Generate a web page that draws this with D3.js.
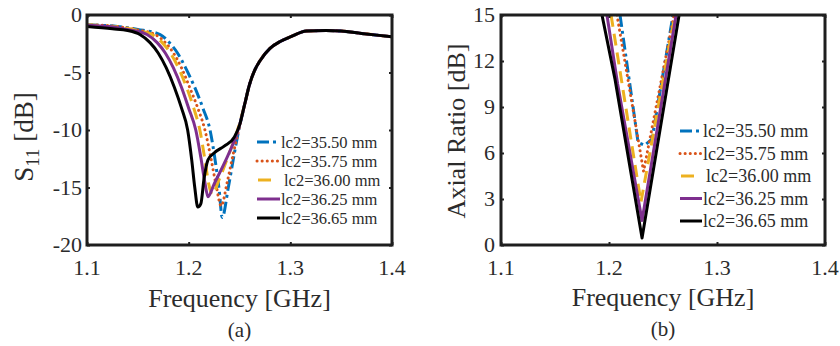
<!DOCTYPE html>
<html>
<head>
<meta charset="utf-8">
<script src="https://cdn.jsdelivr.net/npm/d3@7/dist/d3.min.js"></script>
<style>
  html, body { margin: 0; padding: 0; background: #fff; }
  svg { display: block; }
  text { font-family: "Liberation Serif", "Times New Roman", serif; fill: #2b2b2b; }
</style>
</head>
<body>
<svg id="chart" width="840" height="346"></svg>
<script>
// ---- data ----------------------------------------------------------------
const seriesLabels = ["lc2=35.50 mm", "lc2=35.75 mm", "lc2=36.00 mm", "lc2=36.25 mm", "lc2=36.65 mm"];
const seriesColors = ["#0072BD", "#D95319", "#EDB120", "#7E2F8E", "#000000"];

const freqTicks = [1.1, 1.2, 1.3, 1.4];
const s11Ticks = [0, -5, -10, -15, -20];
const arTicks = [0, 3, 6, 9, 12, 15];

// S11 [dB] vs frequency [GHz]; the upper tail above 1.255 GHz is shared
const s11Tail = [[1.255,-7.8],[1.260,-6.0],[1.265,-4.8],[1.270,-4.0],[1.280,-2.9],[1.290,-2.3],
                 [1.300,-1.9],[1.316,-1.4],[1.335,-1.35],[1.350,-1.4],[1.370,-1.6],[1.400,-1.9]];
const s11_3550 = [[1.10,-0.85],[1.13,-1.0],[1.15,-1.25],[1.172,-1.7],[1.181,-2.4],[1.189,-3.3],[1.197,-4.6],
                  [1.206,-6.3],[1.214,-8.1],[1.221,-10],[1.226,-12.6],[1.230,-15.2],[1.233,-17.6],
                  [1.239,-15.0],[1.245,-12.0],[1.250,-9.7]];
const s11_3575 = [[1.10,-0.85],[1.13,-1.0],[1.15,-1.3],[1.167,-1.7],[1.177,-2.4],[1.185,-3.3],[1.193,-4.6],
                  [1.201,-6.3],[1.209,-8.1],[1.216,-10],[1.222,-12.5],[1.227,-14.8],[1.232,-16.6],
                  [1.238,-14.5],[1.244,-12.0],[1.250,-9.7]];
const s11_3600 = [[1.10,-0.85],[1.13,-1.05],[1.15,-1.35],[1.164,-1.7],[1.174,-2.4],[1.182,-3.3],[1.190,-4.6],
                  [1.198,-6.3],[1.205,-8.1],[1.211,-10],[1.216,-12.6],[1.220,-14.8],[1.223,-15.6],
                  [1.230,-14.3],[1.240,-12.0],[1.247,-10.3],[1.252,-8.8]];
const s11_3625 = [[1.10,-0.9],[1.13,-1.1],[1.145,-1.35],[1.159,-1.7],[1.169,-2.4],[1.177,-3.3],[1.185,-4.6],
                  [1.193,-6.3],[1.200,-8.1],[1.207,-10],[1.212,-12.4],[1.216,-14.6],[1.219,-15.8],
                  [1.225,-14.7],[1.235,-12.9],[1.245,-10.9],[1.250,-9.6]];
const s11_3665 = [[1.10,-1.0],[1.125,-1.2],[1.140,-1.35],[1.152,-1.7],[1.162,-2.4],[1.170,-3.3],[1.178,-4.6],
                  [1.186,-6.3],[1.193,-8.1],[1.199,-10],[1.203,-12.6],[1.206,-15.0],[1.209,-16.7],
                  [1.212,-16.4],[1.215,-14.3],[1.219,-12.6],[1.225,-12.0],[1.235,-11.4],[1.245,-10.6],
                  [1.250,-9.6]];

// Axial ratio [dB] vs frequency [GHz]
const ar_3550 = [[1.2102,15],[1.2269,6.7],[1.2330,6.5],[1.2398,6.9],[1.2593,15]];
const ar_3575 = [[1.2074,15],[1.2320,4.8],[1.2602,15]];
const ar_3600 = [[1.2019,15],[1.2296,2.8],[1.2610,15]];
const ar_3625 = [[1.1981,15],[1.2080,10.5],[1.2306,1.6],[1.2621,15]];
const ar_3665 = [[1.1935,15],[1.2056,10.8],[1.2306,0.45],[1.2649,15]];

const s11Series = [s11_3550, s11_3575, s11_3600, s11_3625, s11_3665].map(s => s.concat(s11Tail.filter(p => p[0] > s[s.length - 1][0])));
const arSeries = [ar_3550, ar_3575, ar_3600, ar_3625, ar_3665];

// ---- styles --------------------------------------------------------------
const lineStyles = [
  { dash: "12,4,3,4", cap: "butt" },   // dash-dot
  { dash: "0.1,5", cap: "round" },     // dotted
  { dash: "12,7", cap: "butt" },       // dashed
  { dash: null, cap: "butt" },         // solid
  { dash: null, cap: "butt" }          // solid
];

const svg = d3.select("#chart");
svg.append("rect").attr("width", 840).attr("height", 346).attr("fill", "#fff");

function panel(cfg) {
  const x = d3.scaleLinear().domain([1.1, 1.4]).range([cfg.left, cfg.right]);
  const y = d3.scaleLinear().domain(cfg.yDomain).range([cfg.bottom, cfg.top]);
  const g = svg.append("g");

  const clipId = "clip-" + cfg.id;
  g.append("clipPath").attr("id", clipId).append("rect")
    .attr("x", cfg.left).attr("y", cfg.top)
    .attr("width", cfg.right - cfg.left).attr("height", cfg.bottom - cfg.top);

  const line = d3.line().x(d => x(d[0])).y(d => y(d[1])).curve(cfg.curve);

  const plot = g.append("g").attr("clip-path", `url(#${clipId})`);
  cfg.series.forEach((s, i) => {
    plot.append("path")
      .attr("d", line(s))
      .attr("fill", "none")
      .attr("stroke", seriesColors[i])
      .attr("stroke-width", 3)
      .attr("stroke-linejoin", "round")
      .attr("stroke-linecap", lineStyles[i].cap)
      .attr("stroke-dasharray", lineStyles[i].dash);
  });

  // inward ticks on all four sides
  const tl = 3;
  const axB = d3.axisBottom(x).tickValues(freqTicks).tickSize(tl).tickFormat("");
  const axT = d3.axisTop(x).tickValues(freqTicks).tickSize(tl).tickFormat("");
  const axL = d3.axisLeft(y).tickValues(cfg.yTicks).tickSize(tl).tickFormat("");
  const axR = d3.axisRight(y).tickValues(cfg.yTicks).tickSize(tl).tickFormat("");
  [[axB, `translate(0,${cfg.bottom - tl})`], [axT, `translate(0,${cfg.top + tl})`],
   [axL, `translate(${cfg.left + tl},0)`], [axR, `translate(${cfg.right - tl},0)`]].forEach(([ax, tr]) => {
    const a = g.append("g").attr("transform", tr).call(ax);
    a.select(".domain").remove();
    a.selectAll("line").attr("stroke", "#222").attr("stroke-width", 2);
  });

  // frame
  g.append("rect")
    .attr("x", cfg.left).attr("y", cfg.top)
    .attr("width", cfg.right - cfg.left).attr("height", cfg.bottom - cfg.top)
    .attr("fill", "none").attr("stroke", "#1e1e1e").attr("stroke-width", 3);

  // tick labels
  g.selectAll(".xt").data(freqTicks).join("text")
    .attr("x", d => x(d)).attr("y", cfg.xLabelY)
    .attr("text-anchor", "middle").attr("font-size", 22)
    .text(d => d3.format(".1f")(d));
  g.selectAll(".yt").data(cfg.yTicks).join("text")
    .attr("x", cfg.yLabelX).attr("y", d => y(d)).attr("dy", "0.34em")
    .attr("text-anchor", "end").attr("font-size", 22)
    .text(d => d);

  // axis titles
  g.append("text")
    .attr("x", (cfg.left + cfg.right) / 2 + cfg.xTitleDx).attr("y", cfg.xTitleY)
    .attr("text-anchor", "middle").attr("font-size", 26)
    .text("Frequency [GHz]");
  g.append("text")
    .attr("x", (cfg.left + cfg.right) / 2 + cfg.xTitleDx).attr("y", cfg.capY)
    .attr("text-anchor", "middle").attr("font-size", 21)
    .text(cfg.caption);
  cfg.yTitle(g);

  // legend
  const lg = cfg.legend;
  seriesLabels.forEach((lab, i) => {
    const ry = lg.y0 + i * lg.dy;
    const x1 = i === 2 ? lg.x0 + 1 : lg.x0;
    const x2 = i === 2 ? lg.x0 + 14 : lg.x1;
    g.append("line")
      .attr("x1", x1).attr("x2", x2).attr("y1", ry).attr("y2", ry)
      .attr("stroke", seriesColors[i]).attr("stroke-width", 3)
      .attr("stroke-linecap", lineStyles[i].cap)
      .attr("stroke-dasharray", i === 2 ? null : lineStyles[i].dash);
    g.append("text")
      .attr("x", lg.tx + (i === 2 ? 3 : 0)).attr("y", ry).attr("dy", "0.34em")
      .attr("font-size", lg.fs).attr("fill", "#222")
      .text(lab);
  });
}

panel({
  id: "a", left: 87, right: 392, top: 15, bottom: 245,
  yDomain: [-20, 0], yTicks: s11Ticks, series: s11Series, curve: d3.curveMonotoneX,
  xLabelY: 275, yLabelX: 82, xTitleY: 307, xTitleDx: 0, capY: 337, caption: "(a)",
  yTitle: g => {
    const t = g.append("text")
      .attr("transform", "translate(33,137) rotate(-90)")
      .attr("text-anchor", "middle").attr("font-size", 27);
    t.append("tspan").text("S");
    t.append("tspan").attr("font-size", 19).attr("dy", 6).text("11");
    t.append("tspan").attr("dy", -6).text(" [dB]");
  },
  legend: { x0: 257, x1: 280, tx: 281, y0: 142, dy: 19, fs: 16.5 }
});

panel({
  id: "b", left: 501, right: 825, top: 15, bottom: 245,
  yDomain: [0, 15], yTicks: arTicks, series: arSeries, curve: d3.curveLinear,
  xLabelY: 275, yLabelX: 495, xTitleY: 306, xTitleDx: 0, capY: 336, caption: "(b)",
  yTitle: g => {
    g.append("text")
      .attr("transform", "translate(465,131) rotate(-90)")
      .attr("text-anchor", "middle").attr("font-size", 26)
      .text("Axial Ratio [dB]");
  },
  legend: { x0: 680, x1: 702, tx: 703, y0: 131, dy: 22.5, fs: 18 }
});
</script>
</body>
</html>
